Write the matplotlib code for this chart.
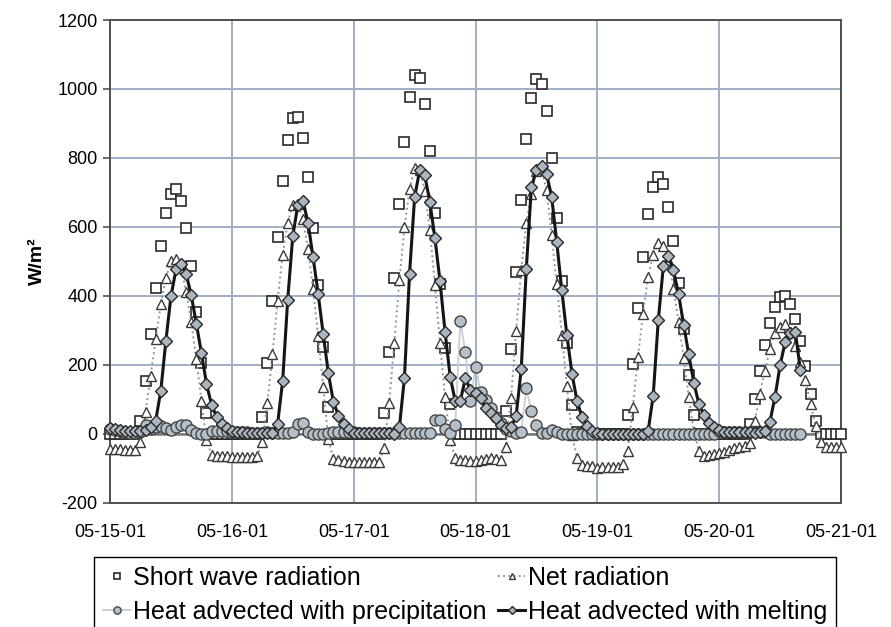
import numpy as np
import pandas as pd
import matplotlib
matplotlib.use("Agg")
import matplotlib.pyplot as plt
import matplotlib.dates as mdates

plt.rcParams["font.family"] = ["Liberation Sans", "DejaVu Sans"]
plt.rcParams["axes.unicode_minus"] = False

# hourly values, 05-15-01 00:00 to 05-21-01 00:00
short_wave = [
    0, 0, 0, 0, 0, 0, 38, 154, 290, 423, 544, 641, 697, 710, 674, 597, 488, 355, 207, 62, 0, 0, 0, 0,
    0, 0, 0, 0, 0, 0, 50, 206, 385, 570, 734, 853, 915, 919, 859, 746, 597, 433, 252, 77, 0, 0, 0, 0,
    0, 0, 0, 0, 0, 0, 62, 238, 452, 667, 846, 976, 1040, 1033, 956, 820, 640, 434, 248, 87, 0, 0, 0, 0,
    0, 0, 0, 0, 0, 0, 66, 246, 469, 679, 856, 975, 1028, 1015, 935, 800, 627, 442, 265, 84, 7, 0, 0, 0,
    0, 0, 0, 0, 0, 0, 55, 204, 366, 512, 638, 717, 744, 725, 657, 558, 437, 305, 171, 55, 0, 0, 0, 0,
    0, 0, 0, 0, 0, 0, 29, 100, 183, 259, 323, 368, 397, 400, 376, 332, 270, 197, 115, 38, 0, 0, 0, 0,
    0,
]

net_radiation = [
    -43, -44, -44, -45, -45, -46, -24, 64, 169, 275, 376, 452, 500, 508, 482, 411, 325, 217, 96, -17, -61, -63, -64, -65,
    -66, -66, -67, -67, -67, -63, -22, 89, 231, 385, 520, 613, 664, 668, 623, 536, 419, 284, 137, -14, -72, -75, -78, -80,
    -82, -82, -82, -82, -82, -82, -41, 91, 265, 445, 599, 709, 770, 766, 705, 590, 433, 265, 106, -17, -70, -74, -76, -77,
    -78, -76, -72, -70, -72, -75, -37, 105, 299, 476, 611, 697, 762, 768, 707, 577, 434, 288, 139, -3, -70, -90, -92, -94,
    -99, -97, -97, -97, -95, -88, -48, 77, 224, 349, 455, 520, 553, 546, 505, 421, 325, 221, 108, 7, -48, -63, -61, -58,
    -56, -51, -46, -41, -38, -35, -26, 37, 117, 183, 245, 293, 310, 318, 295, 254, 210, 156, 88, 22, -22, -37, -38, -38,
    -39,
]

nan = np.nan
precipitation = [
    14, 11, 8, 5, 3, 2, 5, 25, 15, 20, 24, 18, 12, 20, 25, 27, 12, 2, 0, 0, 8, 10, 10, 8,
    7, 6, 5, 5, 4, 4, 4, 5, 2, 3, 3, 4, 5, 28, 31, 7, 0, 0, 0, 4, 6, 7, 7, 6,
    5, 4, 4, 3, 3, 3, 3, 4, 2, 3, 3, 3, 3, 2, 2, 2, 40, 40, 14, 2, 26, 327, 238, 95,
    195, 122, 98, 74, 50, 31, 15, 8, 4, 7, 132, 67, 26, 3, 4, 12, 7, 0, 0, 0, 0, 0, 0, 0,
    0, 0, 0, 0, 0, 0, 0, 0, 0, 0, 0, 0, 0, 0, 0, 0, 0, 0, 0, 0, 0, 0, 0, 0,
    10, 7, 6, 5, 5, 5, 5, 5, 5, 5, 0, 0, 0, 0, 0, 0, 0, nan, nan, nan, nan, nan, nan, nan,
    nan,
]

melting = [
    17, 14, 12, 10, 9, 8, 8, 12, 20, 39, 125, 270, 399, 477, 493, 464, 402, 320, 235, 146, 84, 50, 29, 16,
    8, 6, 5, 4, 3, 3, 2, 2, 2, 28, 153, 389, 574, 664, 675, 613, 512, 406, 289, 177, 93, 53, 28, 14,
    4, 3, 3, 2, 2, 2, 2, 2, 0, 19, 163, 464, 686, 765, 750, 673, 568, 443, 296, 166, 95, 96, 161, 127,
    118, 103, 74, 60, 45, 26, 16, 19, 53, 187, 478, 715, 765, 777, 753, 688, 556, 416, 286, 175, 95, 48, 23, 10,
    2, 1, 1, 1, 0, 0, 0, 0, 0, 0, 8, 111, 329, 486, 515, 474, 405, 317, 231, 149, 87, 55, 33, 21,
    12, 7, 6, 5, 5, 5, 5, 4, 7, 9, 36, 108, 199, 267, 294, 296, 185, nan, nan, nan, nan, nan, nan, nan,
    nan,
]

dates = pd.date_range("2001-05-15", periods=len(short_wave), freq="h")

fig = plt.figure(figsize=(8.91, 6.27), dpi=100)
ax = fig.add_axes([0.1235, 0.1978, 0.8204, 0.7703])

ax.plot(dates, short_wave, ls="none", marker="s", ms=7, mfc="white",
        mec="#2a2a2a", mew=1.2, clip_on=False, zorder=3,
        label="Short wave radiation")
ax.plot(dates, net_radiation, ls=":", color="#8797b0", lw=1.4, marker="^",
        ms=7, mfc="white", mec="#3a3a3a", mew=1.0, clip_on=False, zorder=3,
        label="Net radiation")
ax.plot(dates, precipitation, color="#c6ced6", lw=1.3, marker="o", ms=8,
        mfc="#b4c0c9", mec="#454545", mew=1.0, clip_on=False, zorder=4,
        label="Heat advected with precipitation")
ax.plot(dates, melting, color="#151515", lw=2.2, marker="D", ms=6.5,
        mfc="#a9b5bf", mec="#2a2a2a", mew=1.0, clip_on=False, zorder=5,
        label="Heat advected with melting")

ax.axhline(0, color="#767676", lw=1.8, zorder=2)

ax.set_ylim(-200, 1200)
ax.set_yticks(range(-200, 1201, 200))
ax.set_xlim(pd.Timestamp("2001-05-15"), pd.Timestamp("2001-05-21"))
ax.xaxis.set_major_locator(mdates.DayLocator())
ax.xaxis.set_major_formatter(mdates.DateFormatter("%m-%d-%y"))

ax.grid(True, color="#a0afc5", lw=1.4, zorder=0)
ax.set_axisbelow(True)
for side in ["left", "bottom", "right", "top"]:
    ax.spines[side].set_color("#505050")
    ax.spines[side].set_linewidth(1.4)

ax.tick_params(axis="y", labelsize=13, length=5, width=1.2, color="#505050", pad=4)
ax.tick_params(axis="x", labelsize=13, length=0, pad=15)
ax.set_ylabel("W/m²", fontsize=14, fontweight="bold", labelpad=8)

handles, labels = ax.get_legend_handles_labels()
order = [0, 2, 1, 3]
leg = fig.legend([handles[i] for i in order], [labels[i] for i in order],
                 loc="upper left", bbox_to_anchor=(0.106, 0.112), ncol=2,
                 fontsize=18, frameon=True, fancybox=False, framealpha=1,
                 edgecolor="black", borderpad=0.35, borderaxespad=0,
                 handlelength=1.1, handletextpad=0.1, columnspacing=0.45,
                 labelspacing=0.4, markerscale=0.65)
leg.get_frame().set_linewidth(1.0)

fig.savefig("out.png", dpi=100)
